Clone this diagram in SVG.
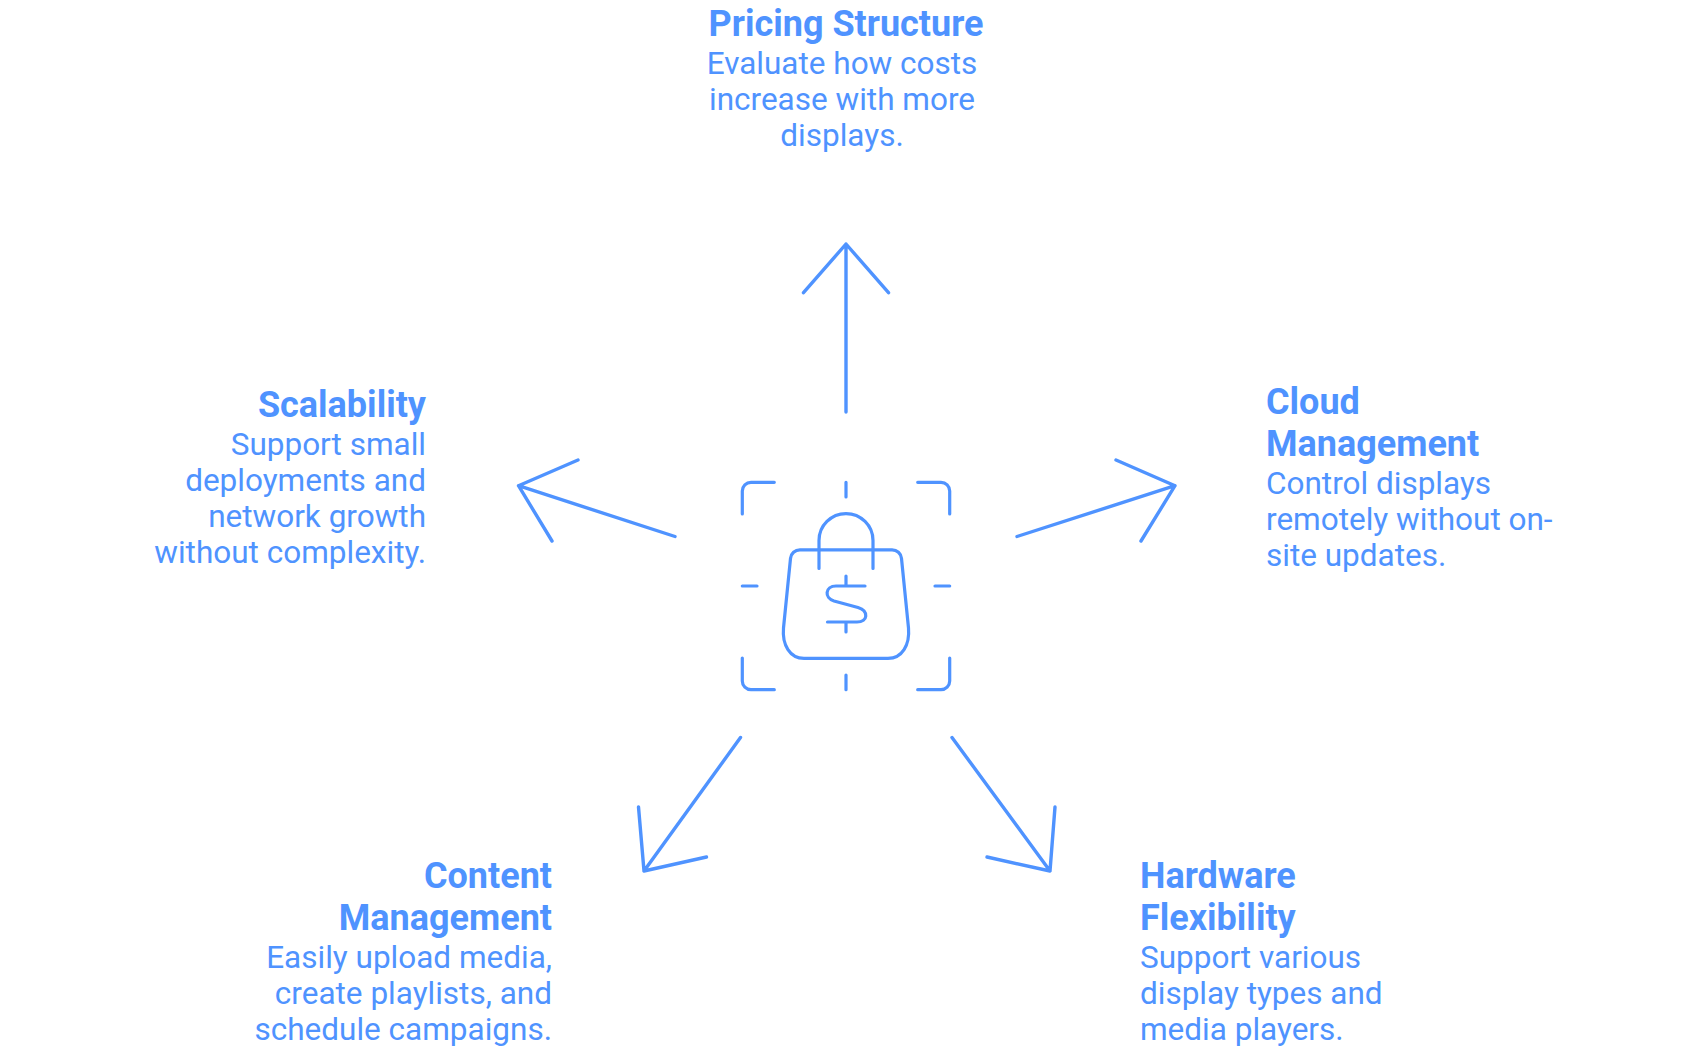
<svg xmlns="http://www.w3.org/2000/svg" width="1692" height="1061" viewBox="0 0 1692 1061">
<style>
text{font-family:Roboto,"Liberation Sans",sans-serif;fill:#4f93ff}
.t{font-size:36px;font-weight:700}
.b{font-size:31.5px;font-weight:400}
.m{text-anchor:middle}.e{text-anchor:end}
.s{fill:none;stroke:#4f93ff;stroke-linecap:round;stroke-linejoin:round}
.c{stroke-width:3.4}
.i{stroke-width:3.2}
</style>
<rect width="1692" height="1061" fill="#fff"/>
<g id="connectors" class="s c">
<path d="M846 412V244M803.500 292.700L846 244L888.500 292.700"/>
<path d="M1017 536.500L1175 485.700M1116 460L1175 485.700L1141 541"/>
<path d="M952 737.500L1050 871M987 857L1050 871L1055 807"/>
<path d="M740.500 737.500L644 871M706.500 857L644 871L638.500 807"/>
<path d="M675 536.500L518.500 485.700M578 460L518.500 485.700L552 541"/>
</g>
<g id="center-icon" class="s i">
<path d="M742.300 514V491A8.700 8.700 0 0 1 751 482.300H774.300M917.700 482.300H941A8.700 8.700 0 0 1 949.700 491V514M949.700 658V681A8.700 8.700 0 0 1 941 689.700H917.700M774.300 689.700H751A8.700 8.700 0 0 1 742.300 681V658"/>
<path d="M846 482.300V497M846 675V689.700M742.300 586H757M935 586H949.700"/>
<path d="M800 549.800H892A9.500 9.500 0 0 1 901.500 558.500L908.500 628C910 645 902 658.300 888 658.300H804C790 658.300 782 645 783.500 628L790.500 558.500A9.500 9.500 0 0 1 800 549.800Z"/>
<path d="M819 568.500V540.500A27 27 0 0 1 873 540.500V568.500"/>
<path d="M846 576V586M865 586H836C825 586 824 598 834 601L858 607.500C869 611 868 622 857 622H827.500M846 622V632"/>
</g>
<g id="node-pricing"><text class="t m" x="846" y="36">Pricing Structure</text><text class="b m" x="842" y="74">Evaluate how costs</text><text class="b m" x="842" y="110">increase with more</text><text class="b m" x="842" y="146">displays.</text></g>
<g id="node-cloud"><text class="t" x="1266" y="414">Cloud</text><text class="t" x="1266" y="456">Management</text><text class="b" x="1266" y="494">Control displays</text><text class="b" x="1266" y="530">remotely without on-</text><text class="b" x="1266" y="566">site updates.</text></g>
<g id="node-hardware"><text class="t" x="1140" y="888">Hardware</text><text class="t" x="1140" y="930">Flexibility</text><text class="b" x="1140" y="968">Support various</text><text class="b" x="1140" y="1004">display types and</text><text class="b" x="1140" y="1040">media players.</text></g>
<g id="node-content"><text class="t e" x="552" y="888">Content</text><text class="t e" x="552" y="930">Management</text><text class="b e" x="552" y="968">Easily upload media,</text><text class="b e" x="552" y="1004">create playlists, and</text><text class="b e" x="552" y="1040">schedule campaigns.</text></g>
<g id="node-scalability"><text class="t e" x="426" y="417">Scalability</text><text class="b e" x="426" y="455">Support small</text><text class="b e" x="426" y="491">deployments and</text><text class="b e" x="426" y="527">network growth</text><text class="b e" x="426" y="563">without complexity.</text></g>
</svg>
